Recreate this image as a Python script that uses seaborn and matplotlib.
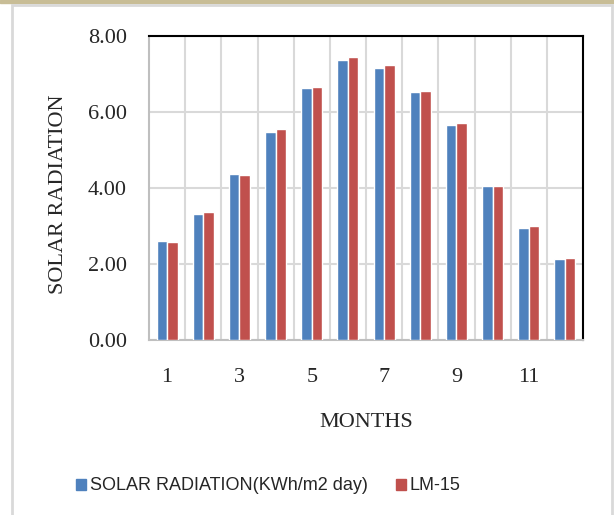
import matplotlib
matplotlib.use("Agg")
import matplotlib.pyplot as plt
import seaborn as sns
import pandas as pd
import numpy as np
from matplotlib.patches import Rectangle

months = [1, 2, 3, 4, 5, 6, 7, 8, 9, 10, 11, 12]
solar = [2.61, 3.32, 4.37, 5.47, 6.63, 7.37, 7.16, 6.53, 5.66, 4.05, 2.95, 2.13]
lm15 = [2.58, 3.37, 4.34, 5.55, 6.66, 7.45, 7.24, 6.55, 5.71, 4.05, 3.00, 2.16]
series_names = ["SOLAR RADIATION(KWh/m2 day)", "LM-15"]
colors = ["#4F81BD", "#C0504D"]
yticks = [0, 2, 4, 6, 8]

df = pd.DataFrame({
    "month": months * 2,
    "value": solar + lm15,
    "series": [series_names[0]] * 12 + [series_names[1]] * 12,
})

sns.set_style("white")
serif = ["Liberation Serif", "DejaVu Serif"]
sans = ["Liberation Sans Narrow", "Liberation Sans", "DejaVu Sans"]

fig = plt.figure(figsize=(6.14, 5.15), dpi=100)
W, H = 614, 515
ax = fig.add_axes([149 / W, 1 - 340 / H, (583 - 149) / W, (340 - 36) / H])

sns.barplot(data=df, x="month", y="value", hue="series", palette=colors,
            width=0.58, gap=0, saturation=1, ax=ax, legend=False, zorder=3)

ax.set_ylim(0, 8)
ax.set_xlim(-0.5, 11.5)
ax.set_yticks(yticks)
ax.set_yticklabels([f"{v:.2f}" for v in yticks], fontfamily=serif, fontsize=16)
ax.set_xticks(range(0, 12, 2))
ax.set_xticklabels([str(m) for m in months[::2]], fontfamily=serif, fontsize=16)
ax.set_xticks(np.arange(0.5, 11.5, 1), minor=True)
ax.tick_params(axis="both", which="both", length=0)
ax.tick_params(axis="y", pad=16)
ax.tick_params(axis="x", pad=20)
ax.grid(False)
ax.grid(True, axis="y", which="major", color="#D9D9D9", linewidth=1.5, zorder=0)
ax.grid(True, axis="x", which="minor", color="#D9D9D9", linewidth=1.5, zorder=0)
ax.set_axisbelow(True)

for side in ["left", "bottom"]:
    ax.spines[side].set_color("#BFBFBF")
    ax.spines[side].set_linewidth(1.5)
for side in ["top", "right"]:
    ax.spines[side].set_color("black")
    ax.spines[side].set_linewidth(1.5)
    ax.spines[side].set_visible(True)

ax.set_xlabel("MONTHS", fontfamily=serif, fontsize=16, labelpad=19)
ax.set_ylabel("SOLAR RADIATION", fontfamily=serif, fontsize=16)
ax.yaxis.set_label_coords((68 - 149) / 434, (340 - 194) / 304)

handles = [Rectangle((0, 0), 1, 1, color=c) for c in colors]
fig.legend(handles, series_names, loc="center", bbox_to_anchor=(268.5 / W, 1 - 486 / H),
           ncol=2, frameon=False, prop={"family": sans, "size": 13},
           handlelength=0.55, handleheight=0.55, handletextpad=0.2, columnspacing=1.6)

# outer frame
fig.patches.append(Rectangle((0, 1 - 3 / H), 1, 3 / H, transform=fig.transFigure,
                             color="#C8BD96", zorder=0))
fig.patches.append(Rectangle((12 / W, -0.1), (612 - 12) / W, 1 - 5 / H + 0.1,
                             transform=fig.transFigure, fill=False,
                             edgecolor="#D9D9D9", linewidth=2, zorder=0))

fig.savefig("out.png", dpi=100)
